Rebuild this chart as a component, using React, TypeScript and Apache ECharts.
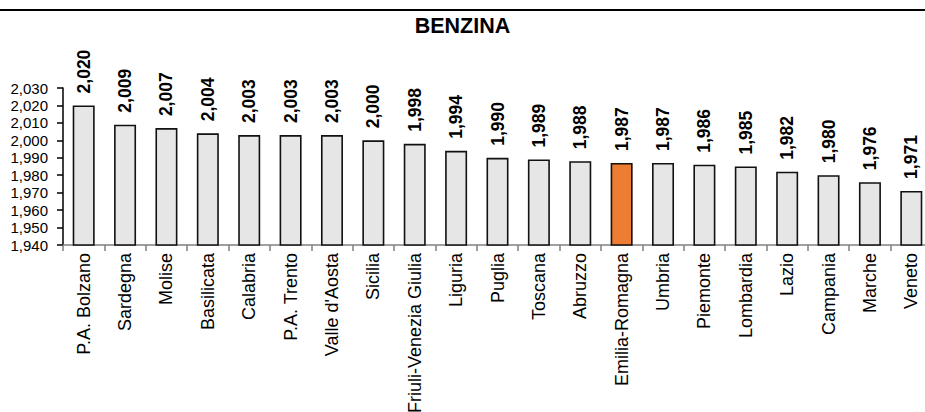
import React, { useEffect, useRef } from "react";
import * as echarts from "echarts";

const categories = [
  "P.A. Bolzano", "Sardegna", "Molise", "Basilicata", "Calabria", "P.A. Trento",
  "Valle d'Aosta", "Sicilia", "Friuli-Venezia Giulia", "Liguria", "Puglia", "Toscana",
  "Abruzzo", "Emilia-Romagna", "Umbria", "Piemonte", "Lombardia", "Lazio", "Campania",
  "Marche", "Veneto",
];
const values = [
  2.020, 2.009, 2.007, 2.004, 2.003, 2.003, 2.003, 2.000, 1.998, 1.994, 1.990, 1.989,
  1.988, 1.987, 1.987, 1.986, 1.985, 1.982, 1.980, 1.976, 1.971,
];
const highlighted = "Emilia-Romagna";
const title = "BENZINA";

const FONT = "'Liberation Sans', Arial, Helvetica, sans-serif";

const fmt = (v: number) => {
  const n = Math.round(v * 1000);
  const s = String(n);
  return s.slice(0, s.length - 3) + "," + s.slice(s.length - 3);
};

export default function App() {
  const ref = useRef<HTMLDivElement>(null);
  useEffect(() => {
    if (!ref.current) return;
    const chart = echarts.init(ref.current, null, { renderer: "svg" });
    chart.setOption({
      animation: false,
      backgroundColor: "#ffffff",
      title: {
        text: title,
        left: "center",
        top: 10,
        textStyle: { fontFamily: FONT, fontSize: 21.5, fontWeight: "bold", color: "#000" },
      },
      graphic: [
        {
          type: "line",
          shape: { x1: 0, y1: 10, x2: 925, y2: 10 },
          style: { stroke: "#000", lineWidth: 2 },
        },
      ],
      grid: {
        left: 63,
        top: 88,
        height: 157,
        width: 869,
        containLabel: false,
        outerBoundsMode: "none",
      },
      xAxis: {
        type: "category",
        data: categories,
        axisLine: { lineStyle: { color: "#808080", width: 1.5 } },
        axisTick: { show: true, length: 6, lineStyle: { color: "#808080", width: 1.5 } },
        axisLabel: {
          rotate: 90,
          interval: 0,
          margin: 8,
          fontFamily: FONT,
          fontSize: 18,
          color: "#000",
        },
      },
      yAxis: {
        type: "value",
        min: 1.94,
        max: 2.03,
        interval: 0.01,
        splitLine: { show: false },
        axisLine: { show: true, lineStyle: { color: "#000", width: 1.5 } },
        axisTick: { show: true, length: 6, lineStyle: { color: "#000", width: 1.5 } },
        axisLabel: {
          margin: 15,
          fontFamily: FONT,
          fontSize: 15,
          color: "#000",
          formatter: (v: number) => fmt(v),
        },
      },
      series: [
        {
          type: "bar",
          barWidth: 22,
          data: values.map((v, i) => ({
            value: v,
            itemStyle: {
              color: categories[i] === highlighted ? "#ED7D31" : "#E6E6E6",
              borderColor: "#111",
              borderWidth: 1.6,
            },
          })),
          label: {
            show: true,
            position: "top",
            rotate: 90,
            align: "left",
            verticalAlign: "middle",
            distance: 12,
            fontFamily: FONT,
            fontSize: 17.5,
            fontWeight: "bold",
            color: "#000",
            formatter: (p: any) => fmt(p.value),
          },
        },
      ],
    });
    return () => chart.dispose();
  }, []);
  return (
    <div
      ref={ref}
      style={{ position: "absolute", left: 0, top: 0, width: 925, height: 412 }}
    />
  );
}
